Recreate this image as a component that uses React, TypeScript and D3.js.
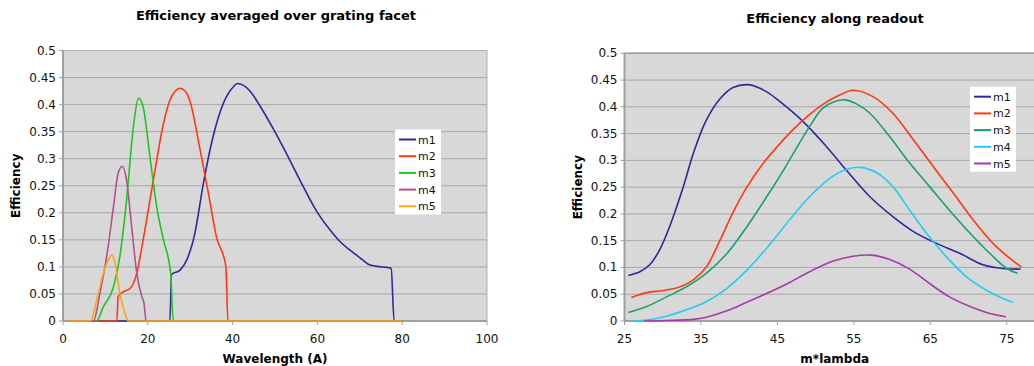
import React from "react";
import * as d3 from "d3";

type Pt = [number, number];

// ---------- Left chart: Efficiency averaged over grating facet ----------
const facetTitle = "Efficiency averaged over grating facet";
const facetXLabel = "Wavelength (A)";
const facetXTicks = [0, 20, 40, 60, 80, 100];
const facetYTicks = [0, 0.05, 0.1, 0.15, 0.2, 0.25, 0.3, 0.35, 0.4, 0.45, 0.5];

const facetM1: Pt[] = [[1,0],[25.2,0],[25.6,0.086],[27.6,0.094],[29.2,0.113],[31.1,0.162],[33.1,0.254],[35.4,0.341],[37.8,0.402],[40.2,0.433],[41.1,0.439],[42.5,0.436],[44.1,0.425],[46.5,0.397],[49.6,0.355],[52.8,0.308],[55.9,0.26],[59.8,0.203],[63,0.168],[65.3,0.147],[67.7,0.131],[70,0.117],[72,0.105],[74,0.101],[76.7,0.0986],[77.4,0.097],[78.1,0],[80,0]];
const facetM2: Pt[] = [[1,0],[12.7,0],[13.0,0.045],[14.2,0.054],[15.8,0.06],[17.4,0.088],[18.9,0.15],[21.3,0.26],[23.7,0.365],[25.2,0.408],[26.5,0.425],[27.6,0.43],[28.8,0.425],[30,0.405],[32.3,0.318],[34.3,0.236],[36.2,0.155],[38.4,0.102],[38.9,0],[80,0]];
const facetM3: Pt[] = [[1,0],[7.9,0],[9.5,0.026],[11.9,0.063],[13.4,0.119],[15,0.224],[16.6,0.359],[17.8,0.412],[18.9,0.396],[20.5,0.304],[22.1,0.211],[23.7,0.15],[25.4,0.088],[26,0],[80,0]];
const facetM4: Pt[] = [[1,0],[7.2,0],[8.7,0.051],[10.3,0.119],[11.9,0.211],[13,0.273],[14,0.286],[15,0.26],[16.2,0.174],[17.4,0.088],[18.6,0.045],[19.1,0.033],[19.6,0],[80,0]];
const facetM5: Pt[] = [[1,0],[6.5,0],[7.9,0.037],[9.5,0.088],[10.7,0.113],[11.5,0.122],[12.3,0.107],[13.4,0.051],[14.6,0.014],[15.4,0],[80,0]];

// ---------- Right chart: Efficiency along readout ----------
const readTitle = "Efficiency along readout";
const readXLabel = "m*lambda";
const readXTicks = [25, 35, 45, 55, 65, 75];
const readYTicks = facetYTicks;

const readM1: Pt[] = [[25.5,0.085],[27,0.092],[28.3,0.105],[29.6,0.133],[30.9,0.176],[32.7,0.251],[34,0.313],[35.7,0.375],[37.5,0.415],[39.2,0.436],[41.4,0.441],[43.6,0.428],[45.3,0.41],[48.4,0.372],[51.4,0.326],[54,0.282],[57.1,0.232],[60.1,0.195],[62.8,0.167],[65.8,0.145],[68.9,0.126],[71.9,0.105],[74.5,0.098],[76.8,0.097]];
const readM2: Pt[] = [[25.9,0.044],[27.9,0.053],[30.1,0.057],[32.3,0.064],[34,0.077],[35.7,0.101],[37.5,0.151],[39.2,0.203],[41,0.25],[43,0.292],[45,0.326],[47,0.357],[49,0.383],[51,0.405],[53,0.421],[54.9,0.431],[57.5,0.419],[60.1,0.388],[62.8,0.338],[65.4,0.288],[68,0.239],[70.6,0.189],[73.2,0.145],[75.4,0.117],[76.9,0.101]];
const readM3: Pt[] = [[25.5,0.016],[27.9,0.027],[30.5,0.045],[33.1,0.064],[35.7,0.089],[38.4,0.126],[41,0.176],[43.6,0.232],[45.3,0.27],[46.6,0.301],[49.2,0.363],[50.9,0.397],[52.5,0.41],[53.9,0.413],[55.4,0.405],[57.1,0.388],[59.7,0.344],[62.3,0.295],[64.9,0.251],[67.5,0.207],[70.2,0.164],[72.8,0.126],[75,0.098],[76.4,0.089]];
const readM4: Pt[] = [[26.1,0],[27.9,0.002],[30.5,0.009],[33.1,0.021],[35.7,0.036],[38.4,0.061],[41,0.095],[43.6,0.136],[46.6,0.189],[49.2,0.232],[51.9,0.267],[54,0.283],[55.8,0.287],[58,0.277],[60.1,0.251],[62.3,0.207],[64.5,0.164],[67.1,0.12],[69.7,0.083],[72.3,0.058],[74.5,0.042],[75.8,0.035]];
const readM5: Pt[] = [[27.5,0],[30.5,0.001],[34,0.003],[35.7,0.007],[38.4,0.019],[41,0.035],[44,0.054],[46.6,0.072],[49.2,0.092],[52.3,0.112],[54.9,0.121],[57.3,0.123],[59.7,0.115],[62.3,0.097],[64.9,0.07],[67.5,0.045],[70.2,0.027],[72.8,0.014],[74.9,0.008]];

const seriesNames = ["m1", "m2", "m3", "m4", "m5"];
const facetColors = ["#2a2a9a", "#ff3a12", "#22c422", "#b4508c", "#ffa514"];
const readColors = ["#2a2a9a", "#ff3a12", "#1a9f6e", "#22cdf2", "#a23ca6"];

const FONT = "'DejaVu Sans', Verdana, sans-serif";

interface ChartProps {
  title: string;
  titleX: number;
  titleY: number;
  xLabel: string;
  yLabel: string;
  left: number;
  right: number;
  top: number;
  bottom: number;
  xDomain: [number, number];
  xTicks: number[];
  yTicks: number[];
  series: Pt[][];
  colors: string[];
  legendX: number;
  legendY: number;
  yLabelX: number;
  topBorder: boolean;
  smooth: boolean;
}

function Chart(p: ChartProps) {
  const x = d3.scaleLinear().domain(p.xDomain).range([p.left, p.right]);
  const y = d3.scaleLinear().domain([0, 0.5]).range([p.bottom, p.top]);
  const line = d3
    .line<Pt>()
    .x((d) => x(d[0]))
    .y((d) => y(d[1]))
    .curve(p.smooth ? d3.curveCatmullRom.alpha(0.5) : d3.curveMonotoneX);
  const yFmt = (v: number) => String(+v.toFixed(2));
  const legW = 46;
  const legH = 85;
  return (
    <g>
      <text x={p.titleX} y={p.titleY} textAnchor="middle" fontFamily={FONT} fontWeight="bold" fontSize={13} fill="#000">
        {p.title}
      </text>
      <rect x={p.left} y={p.top} width={p.right - p.left} height={p.bottom - p.top} fill="#d8d8d8" />
      {p.yTicks.map((t) => (
        <line key={"g" + t} x1={p.left} x2={p.right} y1={y(t)} y2={y(t)} stroke="#a8a8a8" strokeWidth={1} />
      ))}
      <rect x={p.left} y={p.top} width={p.right - p.left} height={p.bottom - p.top} fill="none" stroke="#b0b0b0" strokeWidth={1} />
      {p.topBorder && <line x1={p.left} x2={p.right} y1={p.top} y2={p.top} stroke="#a0a0a0" strokeWidth={1.5} />}
      <line x1={p.left} x2={p.left} y1={p.top} y2={p.bottom} stroke="#a0a0a0" strokeWidth={2} />
      <line x1={p.left} x2={p.right} y1={p.bottom} y2={p.bottom} stroke="#a0a0a0" strokeWidth={2} />
      {p.yTicks.map((t) => (
        <g key={"y" + t}>
          <line x1={p.left - 4} x2={p.left} y1={y(t)} y2={y(t)} stroke="#a0a0a0" />
          <text x={p.left - 7} y={y(t) + 4} textAnchor="end" fontFamily={FONT} fontSize={12} fill="#111">
            {yFmt(t)}
          </text>
        </g>
      ))}
      {p.xTicks.map((t) => (
        <g key={"x" + t}>
          <line x1={x(t)} x2={x(t)} y1={p.bottom} y2={p.bottom + 4} stroke="#a0a0a0" />
          <text x={x(t)} y={p.bottom + 22} textAnchor="middle" fontFamily={FONT} fontSize={12} fill="#111">
            {t}
          </text>
        </g>
      ))}
      <text x={(p.left + p.right) / 2} y={p.bottom + 42} textAnchor="middle" fontFamily={FONT} fontWeight="bold" fontSize={12} fill="#000">
        {p.xLabel}
      </text>
      <text
        transform={`translate(${p.yLabelX},${(p.top + p.bottom) / 2}) rotate(-90)`}
        textAnchor="middle"
        fontFamily={FONT}
        fontWeight="bold"
        fontSize={12}
        fill="#000"
      >
        {p.yLabel}
      </text>
      <g>
        {p.series.map((s, i) => (
          <path key={i} d={line(s) || ""} fill="none" stroke={p.colors[i]} strokeWidth={1.6} strokeLinejoin="round" />
        ))}
      </g>
      <g transform={`translate(${p.legendX},${p.legendY})`}>
        <rect x={0} y={0} width={legW} height={legH} fill="#fff" />
        {seriesNames.map((n, i) => (
          <g key={n} transform={`translate(0,${10 + i * 16.7})`}>
            <line x1={4} x2={21} y1={0} y2={0} stroke={p.colors[i]} strokeWidth={2} />
            <text x={23} y={4} fontFamily={FONT} fontSize={11} fill="#111">
              {n}
            </text>
          </g>
        ))}
      </g>
    </g>
  );
}

export default function App() {
  return (
    <div style={{ position: "absolute", left: 0, top: 0 }}>
      <svg width={1034} height={366} style={{ display: "block", background: "#fff" }}>
        <Chart
          title={facetTitle}
          titleX={276}
          titleY={20}
          xLabel={facetXLabel}
          yLabel="Efficiency"
          left={63}
          right={487}
          top={50.5}
          bottom={321}
          xDomain={[0, 100]}
          xTicks={facetXTicks}
          yTicks={facetYTicks}
          series={[facetM1, facetM2, facetM3, facetM4, facetM5]}
          colors={facetColors}
          legendX={395}
          legendY={129.5}
          yLabelX={20}
          topBorder={false}
          smooth={false}
        />
        <Chart
          title={readTitle}
          titleX={835}
          titleY={23}
          xLabel={readXLabel}
          yLabel="Efficiency"
          left={624.5}
          right={1045}
          top={53.3}
          bottom={321}
          xDomain={[25, 80]}
          xTicks={readXTicks}
          yTicks={readYTicks}
          series={[readM1, readM2, readM3, readM4, readM5]}
          colors={readColors}
          legendX={970}
          legendY={86.7}
          yLabelX={582}
          topBorder={true}
          smooth={true}
        />
      </svg>
    </div>
  );
}
